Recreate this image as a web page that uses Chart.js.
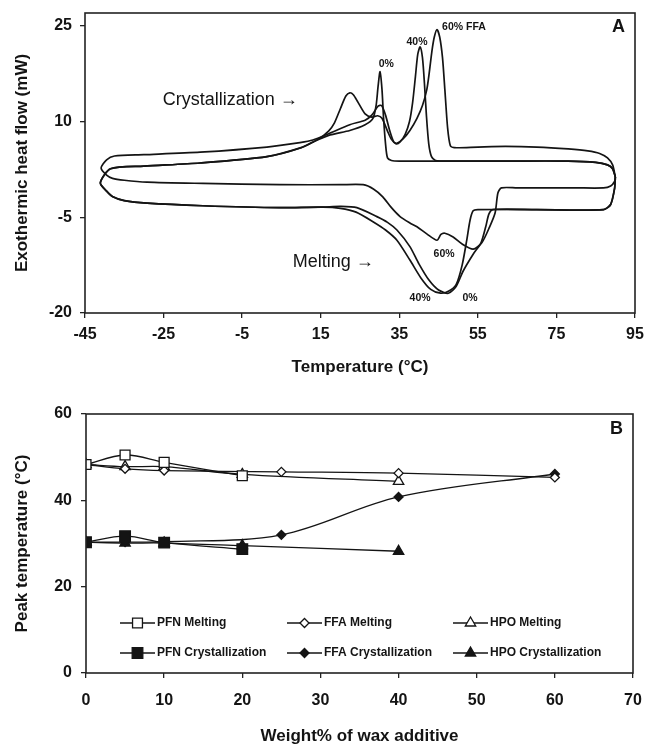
<!DOCTYPE html>
<html lang="en">
<head>
<meta charset="UTF-8">
<title>DSC thermograms and peak temperatures</title>
<script src="https://cdn.jsdelivr.net/npm/chart.js"></script>
<style>
  body { margin: 0; background: #fff; }
  canvas { position: absolute; left: 0; }
  #dscChart { top: 0; }
  #peakChart { top: 380px; }
</style>
</head>
<body>
<canvas id="dscChart" width="645" height="380"></canvas>
<canvas id="peakChart" width="645" height="365"></canvas>

<script>
// ---------- Panel A : DSC thermograms (temperature °C, heat flow mW) ----------
const tempTicks = [-45, -25, -5, 15, 35, 55, 75, 95];
const flowTicks = [-20, -5, 10, 25];

// 60% FFA : cooling from 90 °C (crystallization) then heating from -41 °C (melting)
const temp60 = [90, 89.3, 88, 86, 83, 78, 70, 62, 55, 49, 48, 47.3, 46.6, 46, 45.3, 44.6, 43.9, 43.3, 42.6, 42,
  40.9, 39.5, 37.7, 36, 34.4, 33.6, 32.6, 31.5, 30.5, 29.6, 28, 26.3, 22.4, 17.4, 13, 9.7, 1.3, -15.7, -30, -37.5,
  -39.5, -40.9,
  -39.5, -38, -35, -29.2, -15, 4.6, 20, 25.8, 28.5, 30.8, 33, 35.2, 37.7, 39.5, 42, 44.6, 45.6, 46.6, 48.7, 51,
  53.8, 56, 58, 59.4, 60.1, 61, 65, 80, 87, 88.8, 89.8, 90];
const flow60 = [1.3, 3.2, 4.3, 5.0, 5.4, 5.7, 6.0, 6.1, 6.0, 5.9, 6.2, 9, 15, 20, 23.2, 24.4, 23.2, 21, 17.5, 15,
  12.5, 10.5, 8.6, 7.3, 6.6, 6.8, 8.5, 11, 12.5, 12.4, 11, 10.2, 9.5, 8.2, 7.1, 6.7, 6.0, 5.2, 4.8, 4.6,
  4.0, 2.7,
  1.6, 1.1, 0.8, 0.5, 0.3, 0.1, 0.1, 0.1, -0.6, -1.8, -3.5, -4.9, -5.9, -6.5, -7.6, -8.6, -7.7, -7.5, -8.1, -9.2,
  -10.0, -9.0, -6.5, -4.3, -1.2, -0.4, -0.4, -0.4, -0.4, -0.1, 0.6, 1.3];

// 40% FFA
const temp40 = [90, 89.3, 88, 85, 78, 60, 50, 45.5, 44.2, 43.2, 42.5, 41.9, 41.4, 40.9, 40.3, 39.7, 39.1, 38.4, 37.6,
  36.5, 35.2, 34.2, 33, 32, 30.6, 29.5, 28, 26.3, 24.5, 23.3, 22.4, 21.4, 20, 18.5, 17, 14.3, 10, 1.3, -15.7, -30,
  -38.5, -41.1,
  -39.5, -37.9, -35, -29.2, -15, 4.6, 15.6, 20, 24, 28.3, 31.5, 34.4, 37.7, 40.5, 43, 45.5, 47.5, 49.5, 51, 52.2,
  53, 53.8, 55, 70, 87, 88.8, 89.8, 90];
const flow40 = [1.3, 2.6, 3.2, 3.6, 3.8, 3.8, 3.8, 3.8, 3.9, 4.5, 6.5, 11, 16, 20, 21.7, 20.5, 17, 13, 10,
  8, 6.8, 6.5, 7.2, 8.5, 10.5, 10.9, 10.7, 11.2, 13.0, 14.2, 14.5, 14.0, 12, 9.8, 8.5, 7.2, 5.9, 4.5, 3.5, 3.0,
  2.6, 0.4,
  -0.9, -1.8, -2.4, -2.8, -3.2, -3.5, -3.4, -3.6, -4.2, -5.7, -7.0, -8.6, -11.7, -14.5, -16.3, -16.9, -16.6, -15.5, -12.5, -8.5,
  -5.5, -4.0, -3.8, -3.8, -3.8, -3.0, -0.5, 1.3];

// 0% FFA
const temp0 = [90, 89.3, 88, 85, 78, 60, 45, 35, 33, 32, 31.5, 31, 30.6, 30.1, 29.6, 29.1, 28.3, 26.3, 22.4, 17.4,
  13, 10, 1.3, -15.7, -30, -38.5, -41.1,
  -39.5, -37.9, -35, -29.2, -15, 4.6, 15.6, 20, 24.2, 29.3, 32, 34.4, 37.7, 40, 42.5, 45, 47.5, 49.5, 51.2, 53.8,
  55.8, 57, 57.8, 58.8, 70, 87, 88.8, 89.8, 90];
const flow0 = [1.3, 2.6, 3.2, 3.6, 3.8, 3.8, 3.8, 3.8, 3.9, 4.3, 6.5, 10.5, 15, 17.8, 15.5, 12.5, 10.5, 9.5, 8.6, 7.9,
  6.8, 5.9, 4.5, 3.5, 3.0, 2.6, 0.4,
  -0.9, -1.8, -2.4, -2.8, -3.2, -3.5, -3.4, -3.3, -3.5, -4.9, -5.8, -7.0, -9.6, -12.3, -14.8, -16.4, -16.9, -15.8, -13.5, -10.8,
  -9.0, -6.5, -4.5, -3.8, -3.8, -3.8, -3.0, -0.5, 1.3];

// text notes of panel A, placed in data units
const notesA = [
  { text: 'Crystallization →', x: -25.2, y: 13.4, size: 18, weight: 'normal', align: 'left' },
  { text: 'Melting →', x: 7.9, y: -12.0, size: 18, weight: 'normal', align: 'left' },
  { text: '0%', x: 31.7, y: 19.0, size: 10.5, weight: 'bold', align: 'center' },
  { text: '40%', x: 39.5, y: 22.5, size: 10.5, weight: 'bold', align: 'center' },
  { text: '60% FFA', x: 45.9, y: 24.8, size: 10.5, weight: 'bold', align: 'left' },
  { text: '60%', x: 46.4, y: -10.7, size: 10.5, weight: 'bold', align: 'center' },
  { text: '40%', x: 40.3, y: -17.6, size: 10.5, weight: 'bold', align: 'center' },
  { text: '0%', x: 53.0, y: -17.6, size: 10.5, weight: 'bold', align: 'center' }
];

// ---------- Panel B : peak temperatures vs wax additive ----------
const weightTicks = [0, 10, 20, 30, 40, 50, 60, 70];
const peakTicks = [0, 20, 40, 60];

const weightPFN = [0, 5, 10, 20];
const pfnMelting = [48.3, 50.5, 48.8, 45.7];
const pfnCryst = [30.3, 31.7, 30.2, 28.7];

const weightFFA = [0, 5, 10, 25, 40, 60];
const ffaMelting = [48.3, 47.3, 46.9, 46.6, 46.3, 45.3];
const ffaCryst = [30.3, 30.3, 30.4, 32.0, 40.8, 46.1];

const weightHPO = [0, 5, 10, 20, 40];
const hpoMelting = [48.3, 47.8, 47.8, 46.0, 44.4];
const hpoCryst = [30.3, 30.1, 30.1, 29.5, 28.2];

// ---------------------------------------------------------------
const FONT = "'Liberation Sans', Arial, Helvetica, sans-serif";
const INK = '#141414';
Chart.defaults.font.family = FONT;
Chart.defaults.color = INK;

function pairs(xs, ys) {
  return xs.map((x, i) => ({ x: x, y: ys[i] }));
}

// box around the plot area
const frame = {
  id: 'frame',
  afterDatasetsDraw(chart) {
    const { ctx, chartArea: a } = chart;
    ctx.save();
    ctx.strokeStyle = '#222';
    ctx.lineWidth = 1.6;
    ctx.strokeRect(a.left, a.top, a.right - a.left, a.bottom - a.top);
    ctx.restore();
  }
};

// panel letter in the top right corner
const panelLetter = {
  id: 'panelLetter',
  afterDraw(chart, args, opts) {
    const { ctx, chartArea: a } = chart;
    ctx.save();
    ctx.font = 'bold 18px ' + FONT;
    ctx.fillStyle = INK;
    ctx.textAlign = 'right';
    ctx.textBaseline = 'middle';
    ctx.fillText(opts.text, a.right - opts.dx, a.top + opts.dy);
    ctx.restore();
  }
};

const notes = {
  id: 'notes',
  afterDraw(chart) {
    const { ctx, scales } = chart;
    ctx.save();
    ctx.fillStyle = INK;
    ctx.textBaseline = 'middle';
    notesA.forEach(n => {
      ctx.font = n.weight + ' ' + n.size + 'px ' + FONT;
      ctx.textAlign = n.align;
      ctx.fillText(n.text, scales.x.getPixelForValue(n.x), scales.y.getPixelForValue(n.y));
    });
    ctx.restore();
  }
};

function axis(ticks, fit, tickPad, titleText, titlePad, titleLH) {
  return {
    type: 'linear',
    min: ticks[0],
    max: ticks[ticks.length - 1],
    afterBuildTicks: s => { s.ticks = ticks.map(v => ({ value: v })); },
    afterFit: fit,
    grid: { display: true, drawOnChartArea: false, tickLength: 5, color: '#222', lineWidth: 1.3 },
    border: { display: false },
    ticks: { autoSkip: false, maxRotation: 0, padding: tickPad, color: INK, font: { size: 16, weight: 'bold' } },
    title: { display: true, text: titleText, color: INK, padding: titlePad,
             font: { size: 17, weight: 'bold', lineHeight: titleLH } }
  };
}

// keep the plot edges where the reference has them (no extra room for end labels)
function fitX(h) {
  return s => { s.height = h; s.paddingLeft = 0; s.paddingRight = 0; };
}
function fitY(w) {
  return s => { s.width = w; s.paddingTop = 0; s.paddingBottom = 0; };
}

// ---------------- chart A ----------------
const curveStyle = { borderColor: INK, borderWidth: 1.7, pointRadius: 0, showLine: true, tension: 0.25, fill: false };

const xA = axis(tempTicks, fitX(67), 7, 'Temperature (°C)', { top: 0, bottom: 2 }, 1.2);
const yA = axis(flowTicks, fitY(85), 8, 'Exothermic heat flow (mW)', { top: 12, bottom: 0 }, 1.2);
yA.max = 27;

new Chart(document.getElementById('dscChart'), {
  type: 'scatter',
  data: {
    datasets: [
      Object.assign({ label: '0%', data: pairs(temp0, flow0) }, curveStyle),
      Object.assign({ label: '40%', data: pairs(temp40, flow40) }, curveStyle),
      Object.assign({ label: '60% FFA', data: pairs(temp60, flow60) }, curveStyle)
    ]
  },
  options: {
    responsive: false,
    animation: false,
    layout: { padding: { left: 0, right: 10, top: 13, bottom: 0 } },
    scales: { x: xA, y: yA },
    plugins: { legend: { display: false }, tooltip: { enabled: false }, panelLetter: { text: 'A', dx: 10, dy: 14 } }
  },
  plugins: [frame, panelLetter, notes]
});

// ---------------- chart B ----------------
function series(label, xs, ys, style, filled, radius) {
  return {
    label: label,
    data: pairs(xs, ys),
    showLine: true,
    tension: 0.35,
    borderColor: INK,
    borderWidth: 1.3,
    pointStyle: style,
    pointRadius: radius,
    pointBorderColor: INK,
    pointBorderWidth: 1.3,
    pointBackgroundColor: filled ? INK : '#fff'
  };
}

// legend drawn inside the plot: 3 columns, 2 rows
const insideLegend = {
  id: 'insideLegend',
  afterDraw(chart) {
    const { ctx, chartArea: a } = chart;
    const colX = [a.left + 34, a.left + 201, a.left + 367];
    const rowY = [a.bottom - 50, a.bottom - 20];
    ctx.save();
    chart.data.datasets.forEach((ds, i) => {
      const x0 = colX[i % 3], y = rowY[Math.floor(i / 3)];
      ctx.strokeStyle = INK;
      ctx.lineWidth = 1.3;
      ctx.beginPath();
      ctx.moveTo(x0, y);
      ctx.lineTo(x0 + 35, y);
      ctx.stroke();
      ctx.fillStyle = ds.pointBackgroundColor;
      ctx.strokeStyle = INK;
      Chart.helpers.drawPoint(ctx, { pointStyle: ds.pointStyle, radius: ds.pointRadius, rotation: 0,
                                     borderWidth: ds.pointBorderWidth }, x0 + 17.5, y);
      ctx.fillStyle = INK;
      ctx.font = 'bold 12px ' + FONT;
      ctx.textAlign = 'left';
      ctx.textBaseline = 'middle';
      ctx.fillText(ds.label, x0 + 37, y);
    });
    ctx.restore();
  }
};

const xB = axis(weightTicks, fitX(72), 13, 'Weight% of wax additive', { top: 0, bottom: 0 }, 1.0);
const yB = axis(peakTicks, fitY(86), 9, 'Peak temperature (°C)', { top: 12, bottom: 0 }, 1.2);

new Chart(document.getElementById('peakChart'), {
  type: 'scatter',
  data: {
    datasets: [
      series('PFN Melting', weightPFN, pfnMelting, 'rect', false, 7),
      series('FFA Melting', weightFFA, ffaMelting, 'rectRot', false, 4.5),
      series('HPO Melting', weightHPO, hpoMelting, 'triangle', false, 6),
      series('PFN Crystallization', weightPFN, pfnCryst, 'rect', true, 7.5),
      series('FFA Crystallization', weightFFA, ffaCryst, 'rectRot', true, 4.5),
      series('HPO Crystallization', weightHPO, hpoCryst, 'triangle', true, 6)
    ]
  },
  options: {
    responsive: false,
    animation: false,
    layout: { padding: { left: 0, right: 12, top: 34, bottom: 0 } },
    scales: { x: xB, y: yB },
    plugins: { legend: { display: false }, tooltip: { enabled: false }, panelLetter: { text: 'B', dx: 10, dy: 15 } }
  },
  plugins: [frame, panelLetter, insideLegend]
});
</script>
</body>
</html>
